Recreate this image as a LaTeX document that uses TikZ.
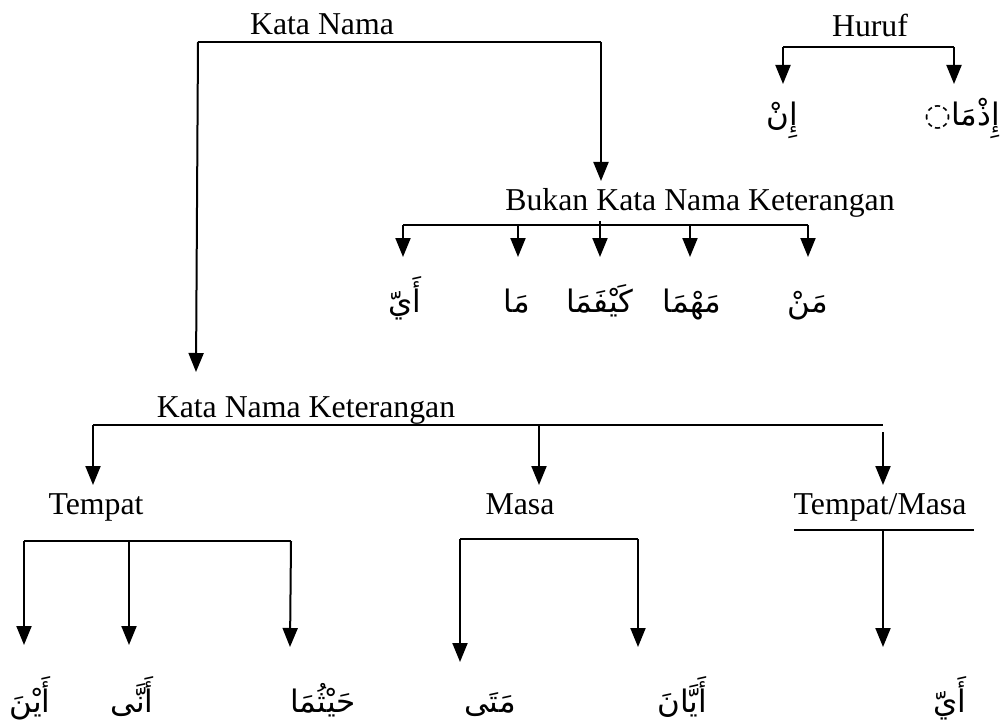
\documentclass[tikz,border=0pt]{standalone}
\usepackage{fontspec}
\setmainfont{Liberation Serif}
\newfontfamily\arabicfont[Script=Arabic]{DejaVu Sans}
\TeXXeTstate=1
\usetikzlibrary{arrows.meta}
\begin{document}
\begin{tikzpicture}[x=1pt,y=-1pt,
  lbl/.style={font=\fontsize{31.8}{36}\selectfont, inner sep=0pt, anchor=base},
  ar/.style={font=\arabicfont\fontsize{31}{36}\selectfont, inner sep=0pt, anchor=base},
  ln/.style={line width=2pt},
  arr/.style={line width=2pt, -{Triangle[width=15pt,length=19pt]}}]
\useasboundingbox (0,0) rectangle (1000,727);
% Kata Nama
\node[lbl] (katanama) at (322,35) {Kata Nama};
\coordinate (knl) at (198,42);
\coordinate (knr) at (601,42);
\draw[ln] (knl) -- (knr);
% Bukan Kata Nama Keterangan
\node[lbl] (bukan) at (700,211) {Bukan Kata Nama Keterangan};
\coordinate (bukantop) at (601,181);
\draw[arr] (knr) -- (bukantop);
\coordinate (bl) at (403,225);
\coordinate (br) at (808,225);
\draw[ln] (bl) -- (br);
\coordinate (bc) at (600,221);
\coordinate (b1) at (518,225);
\coordinate (b3) at (690,225);
\coordinate (t0) at (403,257);
\coordinate (t1) at (518,257);
\coordinate (t2) at (600,257);
\coordinate (t3) at (690,257);
\coordinate (t4) at (808,257);
\draw[arr] (bl) -- (t0);
\draw[arr] (b1) -- (t1);
\draw[arr] (bc) -- (t2);
\draw[arr] (b3) -- (t3);
\draw[arr] (br) -- (t4);
\node[ar] (ayy1) at (405,312) {\beginR أَيّ\endR};
\node[ar] (ma) at (517,312) {\beginR مَا\endR};
\node[ar] (kayfama) at (600,312) {\beginR كَيْفَمَا\endR};
\node[ar] (mahma) at (692,312) {\beginR مَهْمَا\endR};
\node[ar] (man) at (808,312) {\beginR مَنْ\endR};
% Huruf
\node[lbl] (huruf) at (870,37) {Huruf};
\coordinate (hl) at (783,47);
\coordinate (hr) at (954,47);
\draw[ln] (hl) -- (hr);
\coordinate (hlt) at (783,84);
\coordinate (hrt) at (954,84);
\draw[arr] (hl) -- (hlt);
\draw[arr] (hr) -- (hrt);
\node[ar] (in) at (782,126) {\beginR إِنْ\endR};
\node[ar] (idhma) at (962,126) {\beginR إِذْمَا◌\endR};
% Kata Nama Keterangan
\node[lbl] (knk) at (306,417) {Kata Nama Keterangan};
\coordinate (knktop) at (196,372);
\draw[arr] (knl) -- (knktop);
\coordinate (kl) at (93,425);
\coordinate (kr) at (883,425);
\coordinate (km) at (539,425);
\draw[ln] (kl) -- (kr);
\coordinate (krs) at (883,432);
\coordinate (klt) at (93,485);
\coordinate (kmt) at (539,485);
\coordinate (krt) at (883,485);
\draw[arr] (kl) -- (klt);
\draw[arr] (km) -- (kmt);
\draw[arr] (krs) -- (krt);
\node[lbl] (tempat) at (96,514) {Tempat};
\node[lbl] (masa) at (520,514) {Masa};
\node[lbl] (tm) at (880,514) {Tempat/Masa};
\coordinate (ul) at (794,530);
\coordinate (ur) at (974,530);
\draw[ln] (ul) -- (ur);
% Tempat branch
\coordinate (p1) at (24,541);
\coordinate (p2) at (129,541);
\coordinate (p3) at (291,541);
\draw[ln] (p1) -- (p3);
\coordinate (p1t) at (24,645);
\coordinate (p2t) at (129,645);
\coordinate (p3t) at (290,647);
\draw[arr] (p1) -- (p1t);
\draw[arr] (p2) -- (p2t);
\draw[arr] (p3) -- (p3t);
% Masa branch
\coordinate (m1) at (460,539);
\coordinate (m2) at (638,539);
\draw[ln] (m1) -- (m2);
\coordinate (m1t) at (460,662);
\coordinate (m2t) at (638,647);
\draw[arr] (m1) -- (m1t);
\draw[arr] (m2) -- (m2t);
% Tempat/Masa branch
\coordinate (u1) at (883,530);
\coordinate (u1t) at (883,647);
\draw[arr] (u1) -- (u1t);
% bottom labels
\node[ar] (ayna) at (30,712) {\beginR أَيْنَ\endR};
\node[ar] (anna) at (132,712) {\beginR أَنَّى\endR};
\node[ar] (haythuma) at (323,712) {\beginR حَيْثُمَا\endR};
\node[ar] (mata) at (490,712) {\beginR مَتَى\endR};
\node[ar] (ayyana) at (682,712) {\beginR أَيَّانَ\endR};
\node[ar] (ayy2) at (950,712) {\beginR أَيّ\endR};
\end{tikzpicture}
\end{document}
